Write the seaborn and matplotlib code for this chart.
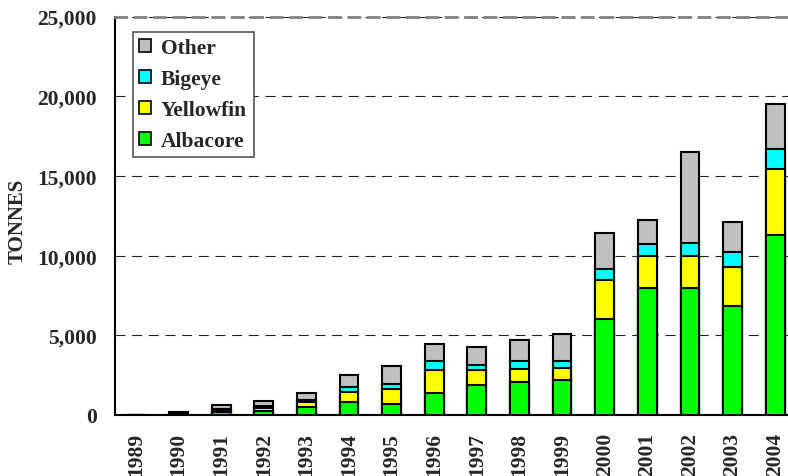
import numpy as np
import matplotlib
matplotlib.use("Agg")
import matplotlib.pyplot as plt
from matplotlib.patches import Patch
import pandas as pd
import seaborn as sns

# catch by species (tonnes)
years = [str(y) for y in range(1989, 2005)]
albacore = [0, 50, 200, 250, 500, 835, 690, 1400, 1860, 2090, 2210, 6000, 7980, 7960, 6810, 11300]
yellowfin = [0, 40, 120, 200, 315, 585, 940, 1400, 960, 810, 715, 2460, 2000, 2020, 2460, 4115]
bigeye = [0, 20, 60, 90, 135, 315, 330, 565, 330, 465, 440, 690, 720, 800, 940, 1255]
other = [0, 60, 250, 320, 410, 770, 1110, 1085, 1090, 1355, 1695, 2270, 1540, 5720, 1900, 2860]

species = ['Other', 'Bigeye', 'Yellowfin', 'Albacore']
colors = {'Albacore': '#00FF00', 'Yellowfin': '#FFFF00', 'Bigeye': '#00FFFF', 'Other': '#C0C0C0'}

df = pd.DataFrame({'year': years, 'Albacore': albacore, 'Yellowfin': yellowfin,
                   'Bigeye': bigeye, 'Other': other})
# cumulative sums so the bars can be overdrawn from the top down
df['cum_Albacore'] = df['Albacore']
df['cum_Yellowfin'] = df['cum_Albacore'] + df['Yellowfin']
df['cum_Bigeye'] = df['cum_Yellowfin'] + df['Bigeye']
df['cum_Other'] = df['cum_Bigeye'] + df['Other']

sns.set_style('white')
plt.rcParams['font.family'] = ['Liberation Serif', 'DejaVu Serif']
plt.rcParams['font.weight'] = 'bold'

fig = plt.figure(figsize=(7.88, 4.77), dpi=100)
ax = fig.add_axes([115 / 788, 1 - 416 / 477, 1 - 115 / 788, (416 - 17.5) / 477])

for sp in species:
    sns.barplot(data=df, x='year', y='cum_' + sp, order=years, color=colors[sp],
                width=0.44, edgecolor='black', linewidth=1.5, saturation=1, ax=ax, zorder=3)

ax.set_ylim(0, 25000)
ax.set_xlim(-0.49, 15.3)
ax.set_yticks(np.arange(0, 25001, 5000))
ax.yaxis.set_major_formatter(matplotlib.ticker.FuncFormatter(lambda v, p: f'{int(v):,}'))
ax.grid(axis='y', color='#222222', linestyle=(0, (9, 6)), linewidth=0.8, zorder=0)
ax.grid(axis='x', visible=False)

ax.tick_params(axis='y', length=0, pad=13, labelsize=15.5)
ax.tick_params(axis='x', length=0, pad=12, labelsize=15.5, labelrotation=90)
for lab in ax.get_xticklabels() + ax.get_yticklabels():
    lab.set_fontweight('bold')

ax.set_xlabel('')
ax.set_ylabel('TONNES', fontsize=15, fontweight='bold')
ax.yaxis.label.set_verticalalignment('center')
ax.yaxis.set_label_coords(-0.144, 0.489)

for s in ['left', 'bottom']:
    ax.spines[s].set_color('black')
    ax.spines[s].set_linewidth(1.5)
ax.spines['right'].set_visible(False)
ax.spines['top'].set_color('#808080')
ax.spines['top'].set_linewidth(2)
ax.spines['top'].set_linestyle((0, (4, 3)))

handles = [Patch(facecolor=colors[sp], edgecolor='black', linewidth=1.2, label=sp) for sp in species]
leg = ax.legend(handles=handles, loc='upper left', bbox_to_anchor=(18 / 673, 1 - 15.5 / 398.5),
                frameon=True, fancybox=False, edgecolor='#555555', framealpha=1,
                prop={'family': 'Liberation Serif', 'weight': 'bold', 'size': 15.5},
                handlelength=0.55, handleheight=0.55, handletextpad=0.45,
                labelspacing=0.5, borderpad=0.3, borderaxespad=0)
leg.get_frame().set_linewidth(1.2)

fig.savefig('out.png', dpi=100)
